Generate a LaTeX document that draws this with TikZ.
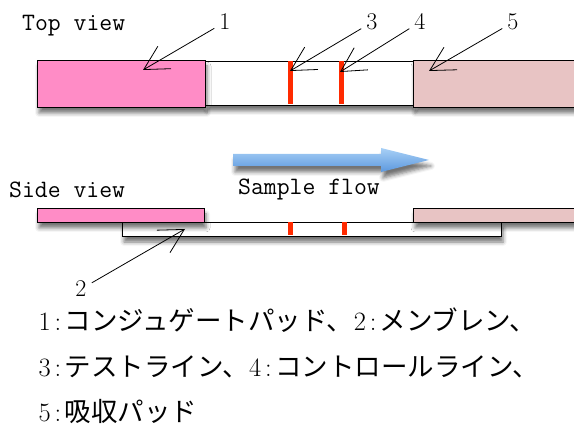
\documentclass[tikz,border=0pt]{standalone}
\usepackage{fontspec}
\newfontfamily\jp{Noto Sans CJK JP}
\usetikzlibrary{arrows.meta,shadows.blur}
\definecolor{padpink}{HTML}{FF8CC6}
\definecolor{padrose}{HTML}{E8C4C4}
\definecolor{lineRed}{HTML}{FF2A00}
\definecolor{flowTop}{HTML}{A8D0F6}
\definecolor{flowBot}{HTML}{5C98DE}
\newcommand\hw[1]{\makebox[0.5em][c]{\rmfamily #1}}
\begin{document}
\begin{tikzpicture}[x=1pt,y=-1pt,
  shad/.style={blur shadow={shadow xshift=2pt,shadow yshift=-6pt,shadow blur radius=4pt,shadow opacity=55}},
  part/.style={draw=black,line width=0.9pt,shad,anchor=north west,inner sep=0pt,outer sep=0pt},
  band/.style={fill=lineRed,draw=none,anchor=north west,inner sep=0pt,outer sep=0pt},
  latin/.style={font=\fontsize{25}{25}\selectfont\ttfamily,anchor=base west,inner sep=0pt},
  num/.style={font=\fontsize{24}{24}\selectfont\rmfamily,anchor=base,inner sep=5pt},
  jline/.style={font=\fontsize{26.5}{26.5}\selectfont\jp,anchor=base west,inner sep=0pt},
  callout/.style={-{Straight Barb[length=24pt,width=26pt]},line width=0.8pt,black}
]
\useasboundingbox (0,0) rectangle (574,430);

% ---------- Top view ----------
\node[latin] (tv) at (22,31) {Top view};
\node[part,fill=white,minimum width=208pt,minimum height=44pt] (mem) at (205,61) {};
\node[part,fill=padpink,minimum width=168pt,minimum height=47pt] (con) at (37,60) {};
\node[part,fill=padrose,minimum width=170pt,minimum height=47pt] (abs) at (413,60) {};
\node[band,minimum width=5pt,minimum height=43pt] (tl) at (287.5,61.5) {};
\node[band,minimum width=5pt,minimum height=43pt] (cl) at (338.5,61.5) {};

\node[num] (l1) at (225,30) {1};
\node[num] (l3) at (372,30) {3};
\node[num] (l4) at (420,30) {4};
\node[num] (l5) at (513,30) {5};
\coordinate (t1) at (143,70);
\coordinate (t3) at (290,71);
\coordinate (t4) at (340,72);
\coordinate (t5) at (429,71);
\draw[callout] (l1) -- (t1);
\draw[callout] (l3) -- (t3);
\draw[callout] (l4) -- (t4);
\draw[callout] (l5) -- (t5);

% ---------- Sample flow ----------
\shade[top color=flowTop,bottom color=flowBot,shad]
  (233,154) -- (381,154) -- (381,148) -- (429,160) -- (381,172) -- (381,166) -- (233,166) -- cycle;
\node[latin] (sf) at (238,195) {Sample flow};

% ---------- Side view ----------
\node[latin] (sv) at (9,198) {Side view};
\node[part,fill=white,minimum width=379pt,minimum height=14pt] (smem) at (122,222) {};
\node[part,fill=padpink,minimum width=167pt,minimum height=14pt] (scon) at (37,208) {};
\node[part,fill=padrose,minimum width=170pt,minimum height=14pt] (sabs) at (413,208) {};
\node[band,minimum width=5pt,minimum height=13pt] (stl) at (287.5,222.5) {};
\node[band,minimum width=5pt,minimum height=13pt] (scl) at (342,222.5) {};

\node[num] (l2) at (81,297) {2};
\coordinate (t2) at (185,229);
\draw[callout] (l2) -- (t2);

% ---------- Legend ----------
\node[jline] (j1) at (38,331) {\hw{1}\hw{:}コンジュゲートパッド、\hw{2}\hw{:}メンブレン、};
\node[jline] (j2) at (38,377) {\hw{3}\hw{:}テストライン、\hw{4}\hw{:}コントロールライン、};
\node[jline] (j3) at (38,422) {\hw{5}\hw{:}吸収パッド};
\end{tikzpicture}
\end{document}
